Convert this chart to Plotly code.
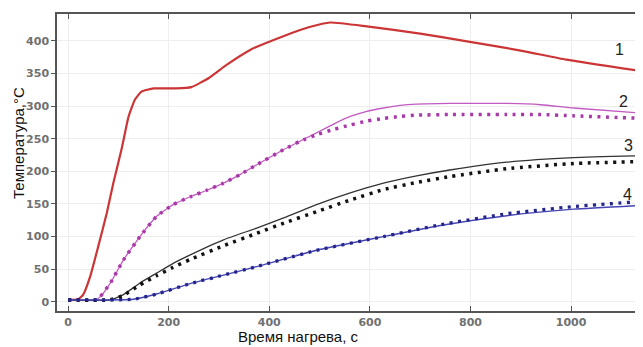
import plotly.graph_objects as go

# Curve 1 (red)
time_1 = [0, 20, 30, 44, 60, 77, 90, 107, 120, 133, 146, 170, 215, 245, 280, 315, 362, 428, 480, 521, 594, 700, 793, 900, 991, 1143]
temp_1 = [3, 4, 11, 39, 85, 136, 182, 236, 283, 310, 322, 327, 327, 329, 343, 363, 386, 407, 421, 428, 422, 411, 399, 385, 371, 353]

# Curve 2 (magenta) solid / dotted
time_2s = [0, 55, 64, 85, 110, 143, 176, 209, 243, 276, 309, 342, 375, 428, 461, 494, 527, 561, 594, 627, 660, 693, 759, 872, 940, 1005, 1143]
temp_2s = [3, 3, 8, 30, 64, 100, 131, 149, 161, 171, 182, 195, 210, 233, 246, 259, 272, 284, 292, 297, 301, 303, 304, 304, 302, 297, 289]
time_2d = [0, 55, 64, 85, 110, 143, 176, 209, 243, 276, 309, 342, 375, 428, 461, 494, 527, 561, 594, 627, 660, 693, 759, 872, 940, 1005, 1143]
temp_2d = [3, 3, 8, 30, 64, 100, 131, 149, 161, 171, 182, 195, 210, 233, 246, 256, 264, 271, 277, 281, 284, 286, 287, 287, 287, 285, 281]

# Curve 3 (black) solid / dotted
time_3s = [0, 83, 110, 143, 176, 209, 243, 309, 375, 430, 494, 561, 627, 693, 759, 872, 1005, 1143]
temp_3s = [3, 3, 11, 29, 44, 59, 72, 95, 113, 129, 149, 167, 182, 193, 202, 214, 221, 224]
time_3d = [0, 83, 110, 143, 176, 209, 243, 309, 375, 430, 494, 561, 627, 693, 759, 872, 1005, 1143]
temp_3d = [3, 3, 10, 26, 40, 53, 65, 86, 105, 121, 138, 156, 172, 183, 192, 204, 212, 215]

# Curve 4 (blue) solid / dotted
time_4s = [0, 130, 176, 243, 309, 375, 494, 627, 740, 872, 1005, 1143]
temp_4s = [3, 4, 12, 28, 41, 54, 79, 100, 117, 132, 142, 148]
time_4d = [0, 130, 176, 243, 309, 375, 494, 627, 740, 872, 1005, 1143]
temp_4d = [3, 4, 12, 28, 41, 54, 79, 100, 118, 135, 146, 154]

curve_labels = ["1", "2", "3", "4"]
label_x = [1097, 1104, 1114, 1112]
label_y = [386, 307, 240, 165]

x_ticks = [0, 200, 400, 600, 800, 1000]
y_ticks = [0, 50, 100, 150, 200, 250, 300, 350, 400]

# page has an 8px body margin: figure is sized/offset to compensate
W, H = 635, 339
L, R, T, B = 49, 0, 6, 36
pw, ph = W - L - R, H - T - B

fig = go.Figure()
dots = "3px,5.5px"
sm = 0.45

fig.add_trace(go.Scatter(x=time_1, y=temp_1, mode="lines",
                         line=dict(color="#cc3535", width=2.2, shape="spline", smoothing=sm)))
fig.add_trace(go.Scatter(x=time_2s, y=temp_2s, mode="lines",
                         line=dict(color="#c25ac2", width=1.3, shape="spline", smoothing=sm)))
fig.add_trace(go.Scatter(x=time_2d, y=temp_2d, mode="lines",
                         line=dict(color="#a83aa8", width=3.5, dash=dots, shape="spline", smoothing=sm)))
fig.add_trace(go.Scatter(x=time_3s, y=temp_3s, mode="lines",
                         line=dict(color="#333333", width=1.3, shape="spline", smoothing=sm)))
fig.add_trace(go.Scatter(x=time_3d, y=temp_3d, mode="lines",
                         line=dict(color="#111111", width=3.5, dash=dots, shape="spline", smoothing=sm)))
fig.add_trace(go.Scatter(x=time_4s, y=temp_4s, mode="lines",
                         line=dict(color="#4545b5", width=1.4, shape="spline", smoothing=sm)))
fig.add_trace(go.Scatter(x=time_4d, y=temp_4d, mode="lines",
                         line=dict(color="#26268a", width=3.3, dash=dots, shape="spline", smoothing=sm)))

for t, lx, ly in zip(curve_labels, label_x, label_y):
    fig.add_annotation(x=lx, y=ly, text=t, showarrow=False,
                       font=dict(family="Liberation Sans", size=16, color="#222222"))

title_font = dict(family="Liberation Sans", size=15, color="#111111")
fig.add_annotation(x=(290 - L) / pw, y=(H - B - 328) / ph, xref="paper", yref="paper",
                   text="Время нагрева, с", showarrow=False,
                   xanchor="center", yanchor="middle", font=title_font)
fig.add_annotation(x=(10 - L) / pw, y=(H - B - 135) / ph, xref="paper", yref="paper",
                   text="Температура,°C", textangle=-90, showarrow=False,
                   xanchor="center", yanchor="middle", font=title_font)

fig.update_layout(
    width=W, height=H,
    margin=dict(l=L, r=R, t=T, b=B),
    paper_bgcolor="white", plot_bgcolor="white",
    showlegend=False,
    font=dict(family="Liberation Sans"),
)
fig.update_xaxes(
    range=[-22, 1143], tickvals=x_ticks, automargin=False,
    showgrid=True, gridcolor="#eeeeee", gridwidth=1, zeroline=False,
    showline=True, linecolor="#555555", linewidth=1.5, mirror="ticks",
    ticks="inside", ticklen=5, tickcolor="#555555", tickwidth=1.2,
    tickfont=dict(family="DejaVu Sans", size=11, color="#707070", weight="bold"),
)
fig.update_yaxes(
    range=[-14, 441], tickvals=y_ticks, automargin=False,
    showgrid=True, gridcolor="#eeeeee", gridwidth=1, zeroline=False,
    showline=True, linecolor="#555555", linewidth=1.5, mirror="ticks",
    ticks="outside", ticklen=4, tickcolor="#555555", tickwidth=1.2,
    tickfont=dict(family="DejaVu Sans", size=11, color="#707070", weight="bold"),
)

fig.write_html("out.html")
